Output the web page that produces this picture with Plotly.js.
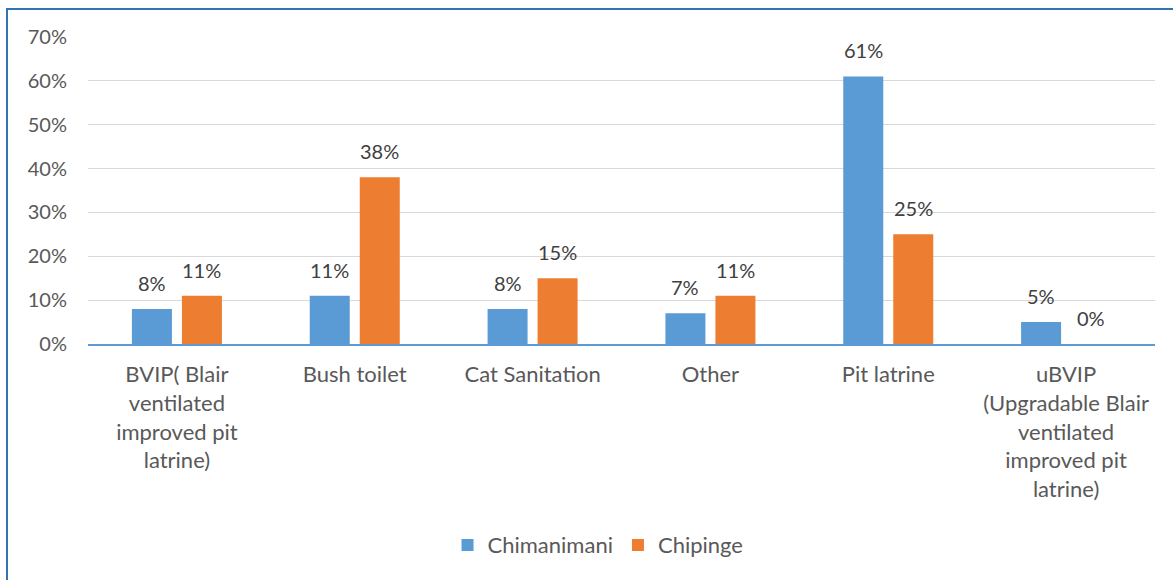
<!DOCTYPE html>
<html>
<head>
<meta charset="utf-8">
<script src="https://cdn.plot.ly/plotly-3.0.1.min.js"></script>
<style>
html,body{margin:0;padding:0;background:#fff;}
#wrap{position:relative;width:1173px;height:580px;}
#chart{width:1173px;height:580px;}
#frame{position:absolute;left:6px;top:8px;width:1167px;height:572px;border-left:2px solid #2e75b6;border-top:2px solid #2e75b6;pointer-events:none;box-sizing:border-box;}
</style>
</head>
<body>
<div id="wrap"><div id="chart"></div><div id="frame"></div></div>
<script>
const categories = [
  "BVIP( Blair<br>ventilated<br>improved pit<br>latrine)",
  "Bush toilet",
  "Cat Sanitation",
  "Other",
  "Pit latrine",
  "uBVIP<br>(Upgradable Blair<br>ventilated<br>improved pit<br>latrine)"
];
const chimanimani = [0.08, 0.11, 0.08, 0.07, 0.61, 0.05];
const chipinge = [0.11, 0.38, 0.15, 0.11, 0.25, 0.00];
const yTicks = [0, 0.1, 0.2, 0.3, 0.4, 0.5, 0.6, 0.7];

const fontFam = "Lato, 'Open Sans', sans-serif";
const labelFont = {family: fontFam, size: 20, color: '#404040'};

const traces = [
  {type:'bar', name:'Chimanimani', x:categories, y:chimanimani,
   marker:{color:'#5b9bd5'}, hoverinfo:'none'},
  {type:'bar', name:'Chipinge', x:categories, y:chipinge,
   marker:{color:'#ed7d31'}, hoverinfo:'none'}
];

const pct = v => Math.round(v*100) + '%';
const annotations = [];
categories.forEach((c, i) => {
  annotations.push({x:c, y:chimanimani[i], xref:'x', yref:'y', text:pct(chimanimani[i]),
    showarrow:false, xanchor:'center', yanchor:'bottom', xshift:-25, yshift:12, font:labelFont});
  annotations.push({x:c, y:chipinge[i], xref:'x', yref:'y', text:pct(chipinge[i]),
    showarrow:false, xanchor:'center', yanchor:'bottom', xshift:25, yshift:12, font:labelFont});
});

const layout = {
  width:1173, height:580,
  margin:{l:88, r:18, t:37, b:236},
  paper_bgcolor:'#ffffff', plot_bgcolor:'#ffffff',
  barmode:'group', bargap:0.4376, bargroupgap:0.2,
  font:{family:fontFam, size:20, color:'#595959'},
  xaxis:{type:'category', showgrid:false, showline:true, linecolor:'#5b9bd5', linewidth:2,
         ticks:'', ticklabelstandoff:10, tickfont:{family:fontFam, size:22, color:'#595959'}, automargin:false},
  yaxis:{range:[0,0.7], tickvals:yTicks, tickformat:'.0%', showgrid:true, gridcolor:'#d9d9d9',
         gridwidth:1, zeroline:false, showline:false, ticks:'', ticklabelstandoff:20,
         tickfont:{family:fontFam, size:20, color:'#595959'}, automargin:false},
  annotations: annotations,
  showlegend:true,
  legend:{orientation:'h', x:0.478, xanchor:'center', y:-0.655, yanchor:'middle',
          font:{family:fontFam, size:22, color:'#595959'}, itemclick:false}
};

Plotly.newPlot('chart', traces, layout, {staticPlot:true, displayModeBar:false});
</script>
</body>
</html>
